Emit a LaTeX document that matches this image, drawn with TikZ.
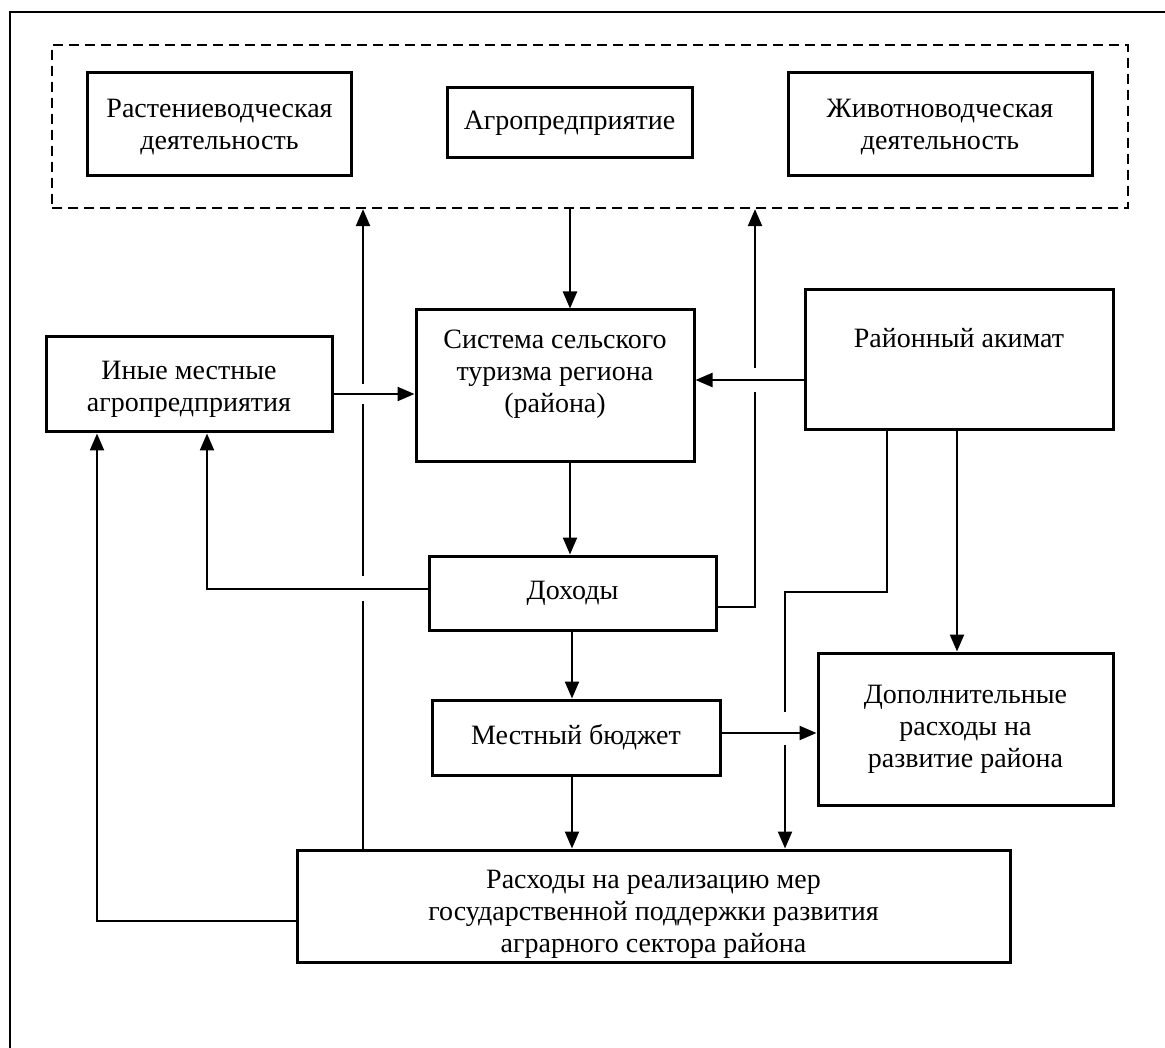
\documentclass[tikz,border=0pt]{standalone}
\usepackage{fontspec}
\setmainfont{Liberation Serif}
\usetikzlibrary{arrows.meta}
\begin{document}
\begin{tikzpicture}[x=1pt,y=-1pt,
 box/.style={draw,line width=3pt,align=center,inner sep=0pt,font=\fontsize{28}{32}\selectfont},
 conn/.style={line width=2.3pt},
 arr/.style={conn,-{Triangle[length=17pt,width=14pt]}}]
\useasboundingbox (0,0) rectangle (1165,1048);
\fill[white] (0,0) rectangle (1165,1048);
\draw[line width=2.8pt] (10,1048) -- (10,12) -- (1165,12);
% boxes
\node[box,dash pattern=on 10pt off 6pt,line width=2.3pt,minimum width=1076pt,minimum height=163pt] (grp) at (590,126.5) {};
\node[box,minimum width=264pt,minimum height=103pt,text height=56pt] (plant) at (219.5,124.5) {Растениеводческая\\деятельность};
\node[box,minimum width=245pt,minimum height=70pt] (agro) at (569.5,123) {Агропредприятие};
\node[box,minimum width=304pt,minimum height=103pt,text height=56pt] (animal) at (940,124.5) {Животноводческая\\деятельность};
\node[box,minimum width=286pt,minimum height=95pt,text height=59pt] (other) at (189,384.5) {Иные местные\\агропредприятия};
\node[box,minimum width=278pt,minimum height=152pt,text depth=30pt] (sys) at (555,386) {Система сельского\\туризма региона\\(района)};
\node[box,minimum width=308pt,minimum height=140pt,text depth=44pt] (akimat) at (959,360) {Районный акимат};
\node[box,minimum width=287pt,minimum height=74pt] (income) at (572.5,593) {Доходы};
\node[box,minimum width=288pt,minimum height=75pt] (budget) at (576,737.5) {Местный бюджет};
\node[box,minimum width=295pt,minimum height=152pt] (extra) at (965.5,729) {Дополнительные\\расходы на\\развитие района};
\node[box,minimum width=713pt,minimum height=112pt,text height=99pt] (spend) at (653.5,906) {Расходы на реализацию мер\\государственной поддержки развития\\аграрного сектора района};
% helper coordinates
\coordinate (xm) at (570,0);
\coordinate (xm2) at (572,0);
\coordinate (yo) at (0,394);
\coordinate (ya) at (0,380);
\coordinate (xr) at (755,0);
\coordinate (yr) at (0,607);
\coordinate (yl) at (0,589);
\coordinate (xl) at (207,0);
\coordinate (xs) at (363,0);
\coordinate (xf) at (97,0);
\coordinate (yf) at (0,921);
\coordinate (xk1) at (887,0);
\coordinate (xk2) at (957,0);
\coordinate (xk) at (785,0);
\coordinate (yb) at (0,733);
\coordinate (gr1) at (755,392);
\coordinate (gr2) at (755,368);
\coordinate (gs1) at (363,601);
\coordinate (gs2) at (363,576);
\coordinate (gs3) at (363,404);
\coordinate (gs4) at (363,384);
\coordinate (gk1) at (785,592);
\coordinate (gk2) at (785,712);
\coordinate (gk3) at (785,745);
% connectors
\draw[arr] (grp.south -| xm) -- (sys.north -| xm);
\draw[arr] (sys.south -| xm) -- (income.north -| xm);
\draw[arr] (income.south -| xm2) -- (budget.north -| xm2);
\draw[arr] (budget.south -| xm2) -- (spend.north -| xm2);
\draw[arr] (other.east |- yo) -- (sys.west |- yo);
\draw[arr] (akimat.west |- ya) -- (sys.east |- ya);
\draw[arr] (budget.east |- yb) -- (extra.west |- yb);
\draw[arr] (akimat.south -| xk2) -- (extra.north -| xk2);
\draw[conn] (income.east |- yr) -| (gr1);
\draw[arr] (gr2) -- (grp.south -| xr);
\draw[arr] (income.west |- yl) -| (other.south -| xl);
\draw[conn] (spend.north -| xs) -- (gs1);
\draw[conn] (gs2) -- (gs3);
\draw[arr] (gs4) -- (grp.south -| xs);
\draw[arr] (spend.west |- yf) -| (other.south -| xf);
\draw[conn] (akimat.south -| xk1) |- (gk1) -- (gk2);
\draw[arr] (gk3) -- (spend.north -| xk);
\end{tikzpicture}
\end{document}
